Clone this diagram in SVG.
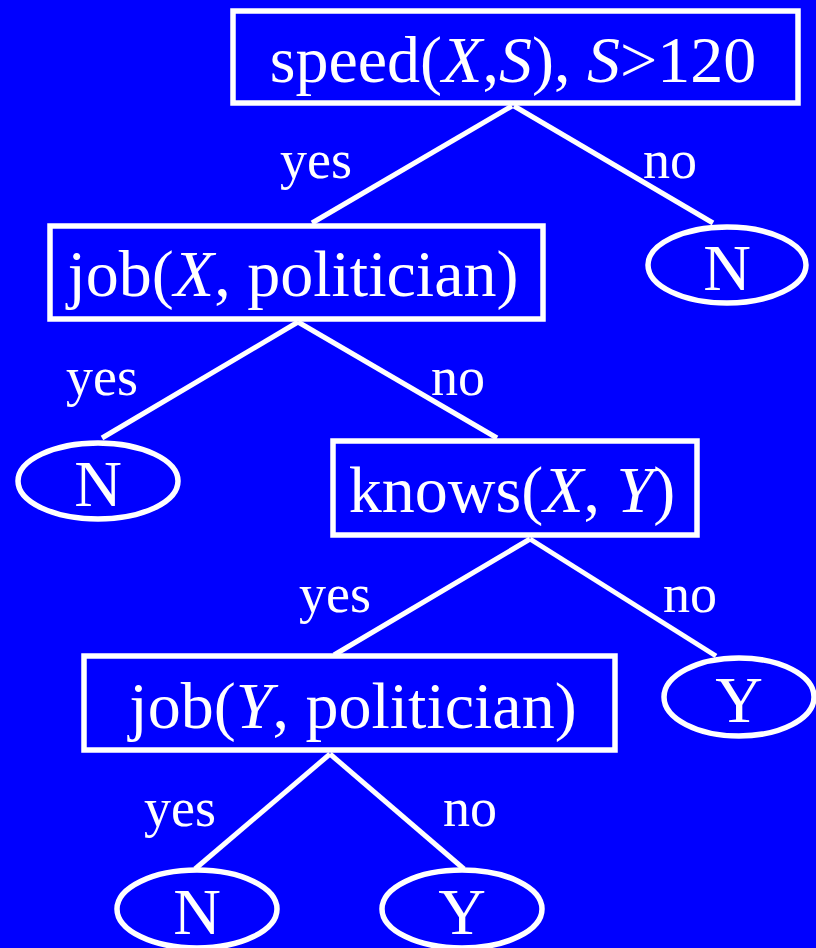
<svg xmlns="http://www.w3.org/2000/svg" width="816" height="948" viewBox="0 0 816 948">
<style>
.box{fill:none;stroke:#fff;stroke-width:5.5}
.ell{fill:none;stroke:#fff;stroke-width:5.5}
.t{font-family:"Liberation Serif","Times New Roman",serif;font-size:66px;fill:#fff;text-anchor:middle}
.l{font-family:"Liberation Serif","Times New Roman",serif;font-size:54px;fill:#fff;text-anchor:middle}
.c{stroke:#fff;stroke-width:5;fill:none}
</style>
<rect width="816" height="948" fill="#0000FF"/>
<g id="connectors">
<line class="c" x1="512" y1="106" x2="312" y2="223"/>
<line class="c" x1="514" y1="106" x2="713" y2="223"/>
<line class="c" x1="298" y1="322" x2="102" y2="438"/>
<line class="c" x1="298" y1="322" x2="497" y2="438"/>
<line class="c" x1="530" y1="539" x2="334" y2="655"/>
<line class="c" x1="530" y1="539" x2="716" y2="656"/>
<line class="c" x1="330" y1="754" x2="195" y2="869"/>
<line class="c" x1="330" y1="754" x2="464" y2="869"/>
</g>
<g id="labels">
<text class="l" x="316" y="178">yes</text>
<text class="l" x="670" y="178">no</text>
<text class="l" x="102" y="395">yes</text>
<text class="l" x="458" y="395">no</text>
<text class="l" x="335" y="612">yes</text>
<text class="l" x="690" y="612">no</text>
<text class="l" x="180" y="826">yes</text>
<text class="l" x="470" y="826">no</text>
</g>
<g id="n1">
<rect class="box" x="233" y="11" width="565" height="92"/>
<text class="t" x="513" y="82">speed(<tspan font-style="italic">X</tspan>,<tspan font-style="italic">S</tspan>), <tspan font-style="italic">S</tspan>&gt;120</text>
</g>
<g id="n2">
<rect class="box" x="50" y="226" width="493" height="93"/>
<text class="t" x="293" y="296">job(<tspan font-style="italic">X</tspan>, politician)</text>
</g>
<g id="n3">
<ellipse class="ell" cx="727" cy="265" rx="79" ry="38"/>
<text class="t" x="727" y="290">N</text>
</g>
<g id="n4">
<ellipse class="ell" cx="98" cy="481" rx="80" ry="38"/>
<text class="t" x="98" y="506">N</text>
</g>
<g id="n5">
<rect class="box" x="333" y="441" width="364" height="94"/>
<text class="t" x="512" y="512">knows(<tspan font-style="italic">X</tspan>, <tspan font-style="italic">Y</tspan>)</text>
</g>
<g id="n6">
<rect class="box" x="84" y="656" width="531" height="94"/>
<text class="t" x="353" y="728">job(<tspan font-style="italic">Y</tspan>, politician)</text>
</g>
<g id="n7">
<ellipse class="ell" cx="739" cy="697" rx="75" ry="39"/>
<text class="t" x="739" y="722">Y</text>
</g>
<g id="n8">
<ellipse class="ell" cx="197" cy="909" rx="80" ry="39"/>
<text class="t" x="197" y="934">N</text>
</g>
<g id="n9">
<ellipse class="ell" cx="462" cy="909" rx="80" ry="39"/>
<text class="t" x="462" y="934">Y</text>
</g>
</svg>
